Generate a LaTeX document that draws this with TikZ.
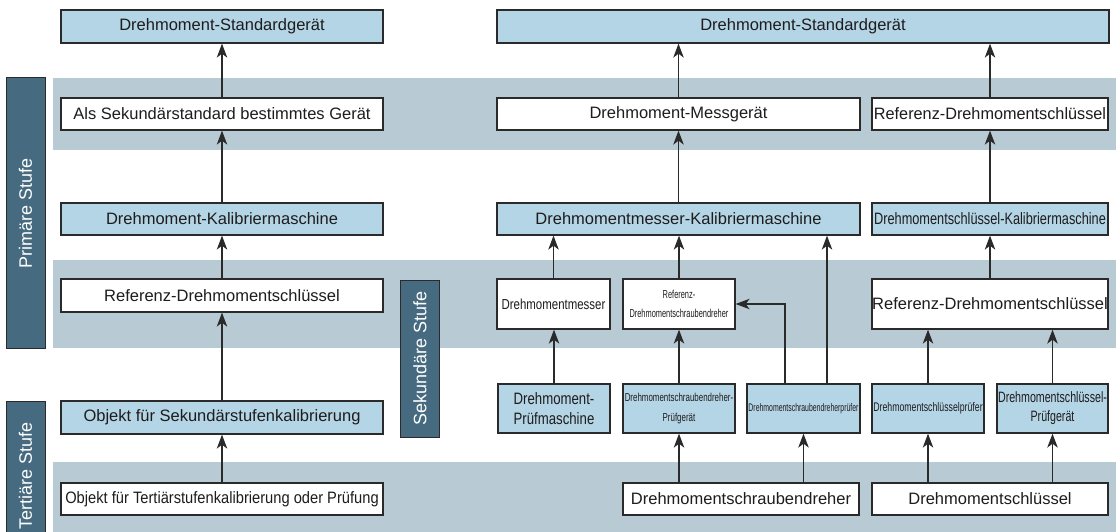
\documentclass[tikz,border=0pt]{standalone}
\usepackage{fontspec}
\setmainfont{Liberation Sans}
\usetikzlibrary{arrows.meta,calc}

\definecolor{band}{HTML}{B8CAD3}
\definecolor{lblue}{HTML}{B4D5E5}
\definecolor{stagefill}{HTML}{466B80}
\definecolor{ink}{HTML}{1E1C1D}
\definecolor{edge}{HTML}{2A2A2A}

% horizontally condensed text: \sx{factor}{text}
\newcommand\sx[2]{\scalebox{#1}[1]{#2}}

\begin{document}
\begin{tikzpicture}[x=1pt,y=-1pt,
  box/.style={draw=edge, line width=1.3pt, inner sep=0pt, text=ink,
    font=\fontsize{16.5}{19.8}\selectfont, align=center},
  bluebox/.style={box, fill=lblue},
  whitebox/.style={box, fill=white},
  stagebox/.style={draw=edge, line width=1pt, fill=stagefill, text=white,
    inner sep=0pt, rotate=90, minimum height=39,
    font=\fontsize{18}{21.6}\selectfont},
  arr/.style={draw=edge, line width=1.1pt,
    -{Stealth[length=14pt,width=10.5pt,inset=4pt]}}]

\useasboundingbox (0,0) rectangle (1116,532);

% level bands
\fill[band] (53,78)  rectangle (1116,150);
\fill[band] (53,260) rectangle (1116,348);
\fill[band] (53,462) rectangle (1116,532);

% level labels
\node[stagebox, minimum width=270] (primaer)   at (25.5,213)   {Primäre Stufe};
\node[stagebox, minimum width=150] (tertiaer)  at (25.5,476)   {Tertiäre Stufe};
\node[stagebox, minimum width=157] (sekundaer) at (420,358.5)  {Sekundäre Stufe};

% left chain
\node[bluebox,  minimum width=322, minimum height=33] (stdL) at (222,26.5)  {Drehmoment-Standardgerät};
\node[whitebox, minimum width=322, minimum height=32] (als)  at (222,114)   {Als Sekundärstandard bestimmtes Gerät};
\node[bluebox,  minimum width=322, minimum height=32] (kalL) at (222,219)   {Drehmoment-Kalibriermaschine};
\node[whitebox, minimum width=322, minimum height=33] (refL) at (222,295.5) {Referenz-Drehmomentschlüssel};
\node[bluebox,  minimum width=322, minimum height=33] (objS) at (222,417.5) {Objekt für Sekundärstufenkalibrierung};
\node[whitebox, minimum width=322, minimum height=32] (objT) at (222,499)   {\sx{0.89}{Objekt für Tertiärstufenkalibrierung oder Prüfung}};

% right side, primary level
\node[bluebox,  minimum width=612, minimum height=33] (stdR)  at (803,26.5) {Drehmoment-Standardgerät};
\node[whitebox, minimum width=363, minimum height=32] (mess)  at (678.5,114) {Drehmoment-Messgerät};
\node[whitebox, minimum width=236, minimum height=32] (refR1) at (990,114)   {\sx{0.985}{Referenz-Drehmomentschlüssel}};
\node[bluebox,  minimum width=363, minimum height=32] (mkal)  at (678.5,219) {Drehmomentmesser-Kalibriermaschine};
\node[bluebox,  minimum width=236, minimum height=32] (skal)  at (990,219)   {\sx{0.773}{Drehmomentschlüssel-Kalibriermaschine}};

% right side, secondary level
\node[whitebox, minimum width=113, minimum height=50, font=\fontsize{14.5}{19}\selectfont] (dm) at (553.5,304)
  {\sx{0.79}{Drehmomentmesser}};
\node[whitebox, minimum width=112, minimum height=50, font=\fontsize{11.5}{19}\selectfont] (rs) at (679,304)
  {\sx{0.645}{Referenz-}\\\sx{0.645}{Drehmomentschraubendreher}};
\node[whitebox, minimum width=236, minimum height=50] (refR2) at (990,304) {Referenz-Drehmomentschlüssel};

% right side, test devices
\node[bluebox, minimum width=112, minimum height=49, font=\fontsize{16.5}{20}\selectfont] (pm) at (554,408.5)
  {\sx{0.8}{Drehmoment-}\\\sx{0.8}{Prüfmaschine}};
\node[bluebox, minimum width=112, minimum height=49, font=\fontsize{11.5}{20}\selectfont] (pg) at (679,408.5)
  {\sx{0.69}{Drehmomentschraubendreher-}\\\sx{0.69}{Prüfgerät}};
\node[bluebox, minimum width=113, minimum height=49, font=\fontsize{11}{14}\selectfont] (sp) at (803.5,408.5)
  {\sx{0.627}{Drehmomentschraubendreherprüfer}};
\node[bluebox, minimum width=112, minimum height=49, font=\fontsize{12.5}{15}\selectfont] (slp) at (928,408.5)
  {\sx{0.70}{Drehmomentschlüsselprüfer}};
\node[bluebox, minimum width=111, minimum height=49, font=\fontsize{15}{19}\selectfont] (slpg) at (1052.5,408.5)
  {\sx{0.71}{Drehmomentschlüssel-}\\\sx{0.71}{Prüfgerät}};

% right side, tertiary level
\node[whitebox, minimum width=236, minimum height=32] (sd) at (741,499) {Drehmomentschraubendreher};
\node[whitebox, minimum width=236, minimum height=32] (sl) at (990,499) {Drehmomentschlüssel};

% left chain arrows
\draw[arr] (als.north)  -- (stdL.south);
\draw[arr] (kalL.north) -- (als.south);
\draw[arr] (refL.north) -- (kalL.south);
\draw[arr] (objS.north) -- (refL.south);
\draw[arr] (objT.north) -- (objS.south);

% right side arrows
\draw[arr] (mess.north)  -- (mess.north |- stdR.south);
\draw[arr] (refR1.north) -- (refR1.north |- stdR.south);
\draw[arr] (mkal.north)  -- (mess.south);
\draw[arr] (skal.north)  -- (refR1.south);
\draw[arr] (dm.north)    -- (dm.north |- mkal.south);
\draw[arr] (rs.north)    -- (rs.north |- mkal.south);
\draw[arr] (refR2.north) -- (skal.south);

\coordinate (spL) at ($(sp.north)+(-18.5,0)$);
\coordinate (spR) at ($(sp.north)+(23.5,0)$);
\draw[arr] (spL) |- (rs.east);
\draw[arr] (spR) -- (spR |- mkal.south);

\draw[arr] (pm.north)   -- (pm.north |- dm.south);
\draw[arr] (pg.north)   -- (rs.south);
\draw[arr] (slp.north)  -- (slp.north |- refR2.south);
\draw[arr] (slpg.north) -- (slpg.north |- refR2.south);

\draw[arr] (pg.south |- sd.north)   -- (pg.south);
\draw[arr] (sp.south |- sd.north)   -- (sp.south);
\draw[arr] (slp.south |- sl.north)  -- (slp.south);
\draw[arr] (slpg.south |- sl.north) -- (slpg.south);

\end{tikzpicture}
\end{document}
